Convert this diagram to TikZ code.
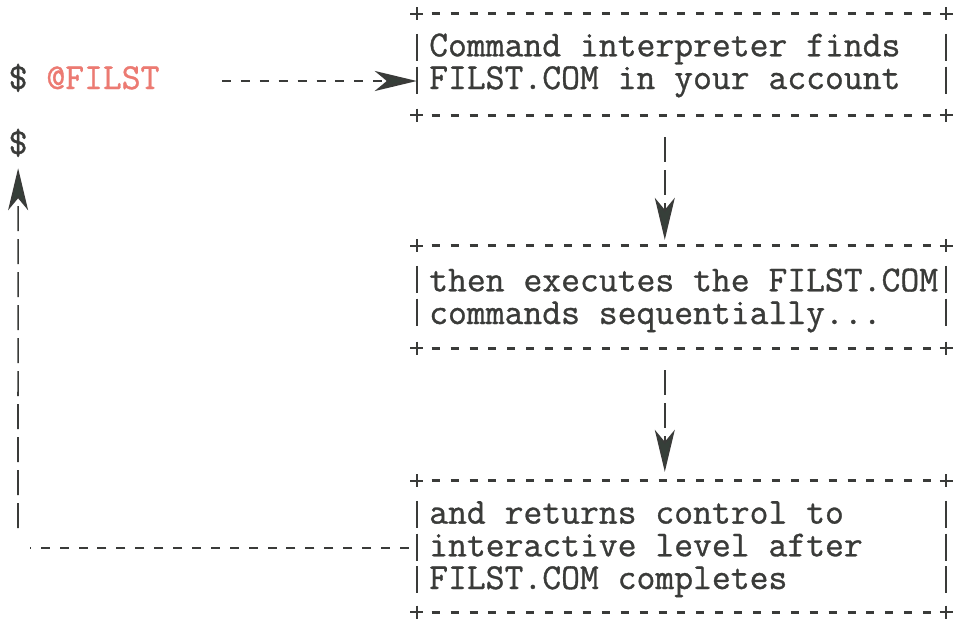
\documentclass[tikz,border=0pt]{standalone}
\usepackage{fontspec}
\newfontfamily\typewriter{Latin Modern Mono}[FakeBold=0.9]
\usetikzlibrary{arrows.meta,calc}

\definecolor{ink}{HTML}{3A3B39}
\definecolor{atcolor}{HTML}{EC7A72}
\definecolor{tipfill}{HTML}{363F39}

\tikzset{
  tt/.style={font=\typewriter\fontsize{36.6}{32.7}\selectfont, text=ink,
             inner sep=0pt, anchor=base west},
  boxtext/.style={tt, align=left},
  framebox/.style={minimum width=529.2pt, inner sep=0pt, draw=none},
  crossline/.style={draw=ink, line width=1.9pt},
  ruledash/.style={draw=ink, line width=2.8pt},
  bigtip/.style={-{Stealth[length=42pt, width=20pt, inset=12pt, fill=tipfill]}},
  hdash/.style={draw=ink, line width=2.8pt, dash pattern=on 9pt off 9.9pt},
  vdash/.style={draw=ink, line width=1.6pt, dash pattern=on 25pt off 8pt},
}

% Character-cell frame: crosses at the corners, one dash per cell
% along top and bottom, one bar per text row on each side.
\newcommand\asciiframe[2]{%
  \foreach \p in {north west,north east,south west,south east}
    \draw[crossline] ($(#1.\p)+(-6.5,0)$) -- ++(13,0)
                     ($(#1.\p)+(0,-6.5)$) -- ++(0,13);
  \foreach \k in {1,...,27} {
    \draw[ruledash] ($(#1.north west)+(\k*18.9-4,0)$) -- ++(8,0);
    \draw[ruledash] ($(#1.south west)+(\k*18.9-4,0)$) -- ++(8,0);
  }
  \foreach \i in {1,...,#2} {
    \draw[crossline] ($(#1.north west)+(0,20+32.7*\i-32.7)$) -- ++(0,27);
    \draw[crossline] ($(#1.north east)+(0,20+32.7*\i-32.7)$) -- ++(0,27);
  }
}

\begin{document}
\begin{tikzpicture}[x=1pt, y=-1pt]
  \useasboundingbox[fill=white] (0,0) rectangle (956,622);

  % boxes
  \node[framebox, minimum height=101pt] (box1) at (681.6,64.5) {};
  \node[framebox, minimum height=102pt] (box2) at (681.6,297) {};
  \node[framebox, minimum height=131pt] (box3) at (681.6,546.5) {};
  \asciiframe{box1}{2}
  \asciiframe{box2}{2}
  \asciiframe{box3}{3}

  % box texts (anchored on the baseline of their last line)
  \node[boxtext] (text1) at (429,89)
    {Command interpreter finds\\FILST.COM in your account};
  \node[boxtext] (text2) at (429,324)
    {then executes the FILST.COM\\commands sequentially...};
  \node[boxtext] (text3) at (429,589)
    {and returns control to\\interactive level after\\FILST.COM completes};

  % terminal prompts
  \node[tt] (prompt1) at (8.5,89)  {\$ \textcolor{atcolor}{@FILST}};
  \node[tt] (prompt2) at (8.5,154) {\$};

  % connectors
  \coordinate (a1s) at (222,81);
  \draw[hdash, bigtip] (a1s) -- (a1s -| box1.west);

  \draw[vdash, bigtip] ($(box1.south west)+(248,22)$) -- ($(box2.north west)+(248,-6)$);
  \draw[vdash, bigtip] ($(box2.south west)+(248,22)$) -- ($(box3.north west)+(248,-9)$);

  \coordinate (ret) at (18,548);
  \draw[hdash, shorten <=8pt, shorten >=12pt] ($(box3.west)+(0,1.5)$) -- (ret);
  \draw[vdash, bigtip, shorten <=20pt, shorten >=11pt] (ret) -- (prompt2.south);
\end{tikzpicture}
\end{document}
